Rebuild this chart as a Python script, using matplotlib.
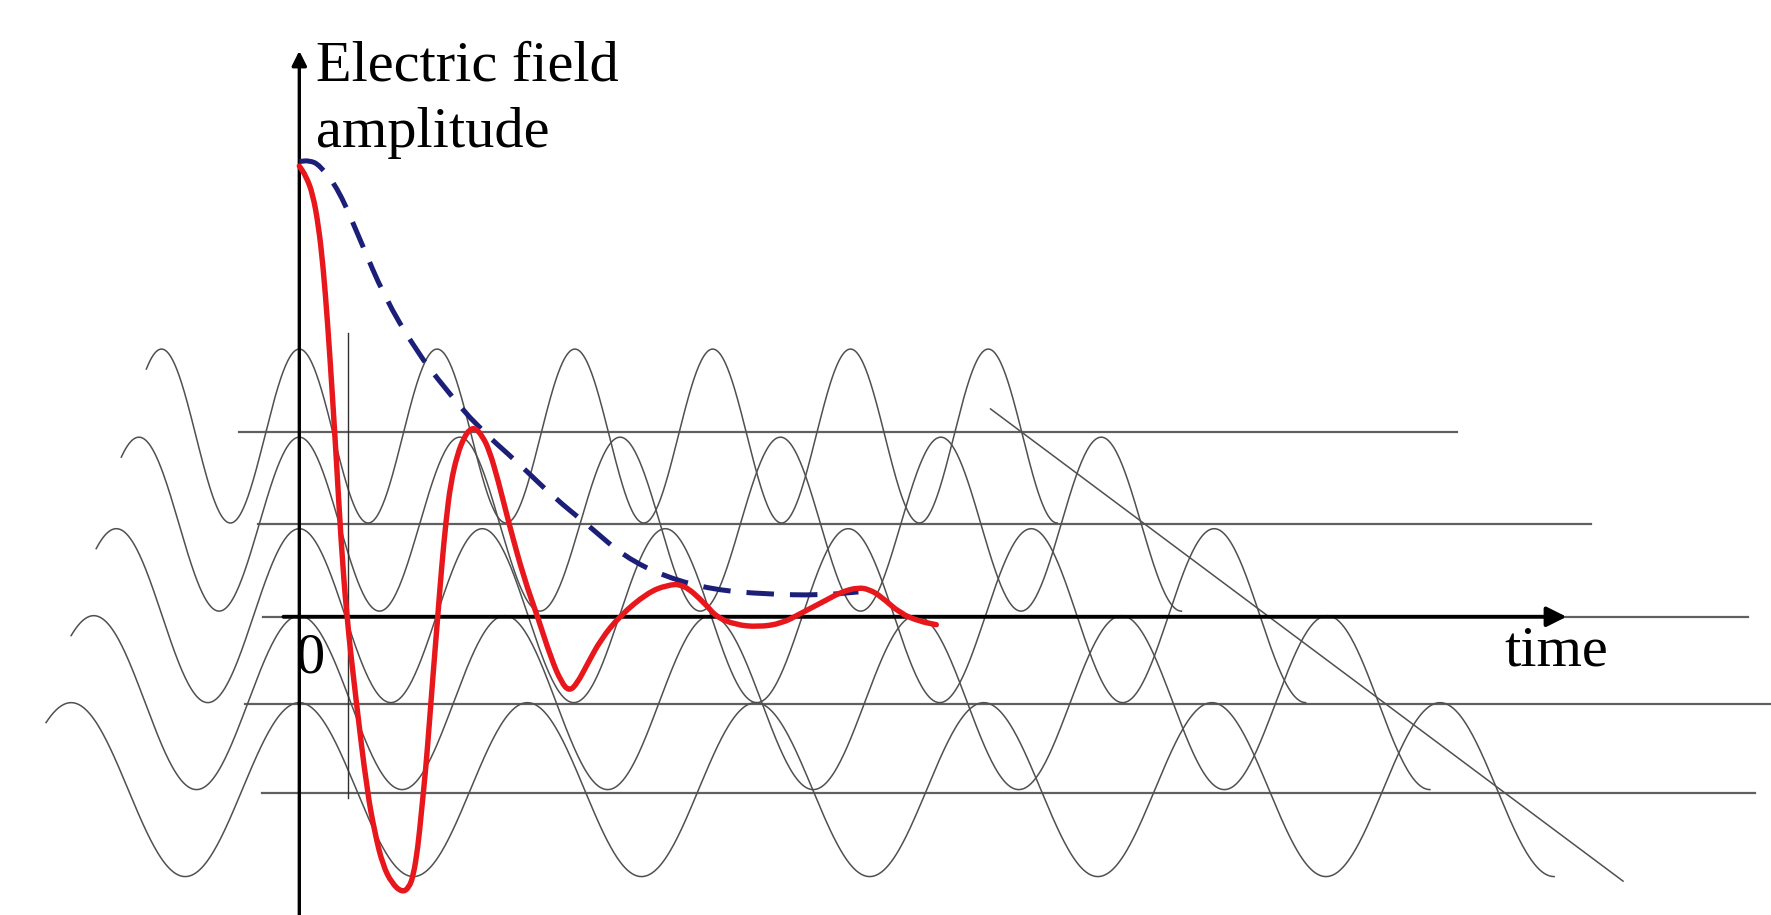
import matplotlib
matplotlib.use("Agg")
import matplotlib.pyplot as plt
from matplotlib.path import Path
from matplotlib.patches import PathPatch
import numpy as np

# individual precessing components (period, centre line, amplitude)
periods = [1.22, 1.42, 1.62, 1.82, 2.02]
wave_centres = [1.60, 0.82, 0.01, -0.76, -1.53]
amplitude = 0.77
first_cycle = -1.11   # each wave starts 1.11 periods before t=0
last_cycle = 5.5      # and stops at its trough after 5.5 periods

# horizontal reference lines behind the waves
line_levels = [1.64, 0.82, 0.0, -0.77, -1.56]
line_starts = [-0.53, -0.37, -0.32, -0.48, -0.33]
line_ends = [10.25, 11.44, 12.83, 13.03, 12.89]

# diagonal that cuts off the waves
diag_t = [6.12, 11.72]
diag_y = [1.84, -2.34]

# thin marker line just after t=0
marker_t = 0.43
marker_y = [-1.60, 2.51]

# total signal (free induction decay)
fid_t = [0.00, 0.06, 0.12, 0.17, 0.21, 0.25, 0.29, 0.33, 0.37, 0.42, 0.50, 0.60,
         0.67, 0.74, 0.82, 0.91, 0.97, 1.01, 1.05, 1.08, 1.12, 1.15, 1.19, 1.22,
         1.26, 1.30, 1.34, 1.40, 1.46, 1.51, 1.56, 1.62, 1.68, 1.76, 1.86, 1.99,
         2.11, 2.23, 2.32, 2.39, 2.46, 2.55, 2.67, 2.84, 3.08, 3.25, 3.40, 3.59,
         3.69, 3.86, 4.06, 4.27, 4.44, 4.67, 4.80, 4.95, 5.05, 5.15, 5.32, 5.49, 5.64]
fid_y = [3.99, 3.90, 3.74, 3.46, 3.11, 2.61, 2.01, 1.36, 0.66, 0.00, -0.72, -1.54,
         -1.92, -2.20, -2.36, -2.44, -2.40, -2.29, -2.04, -1.74, -1.34, -0.96, -0.44, -0.07,
         0.44, 0.86, 1.18, 1.44, 1.59, 1.66, 1.67, 1.60, 1.48, 1.21, 0.81, 0.34,
         0.00, -0.37, -0.58, -0.66, -0.59, -0.42, -0.20, 0.01, 0.21, 0.28, 0.29, 0.12,
         0.00, -0.07, -0.09, -0.06, 0.03, 0.15, 0.22, 0.26, 0.24, 0.18, 0.03, -0.04, -0.07]

# decay envelope (dashed)
env_t = [0.00, 0.09, 0.18, 0.35, 0.55, 0.75, 1.03, 1.30, 1.58, 1.94, 2.25, 2.57,
         2.88, 3.25, 3.66, 4.13, 4.61, 4.95]
env_y = [4.03, 4.04, 4.00, 3.78, 3.31, 2.84, 2.36, 2.01, 1.68, 1.36, 1.06, 0.80,
         0.53, 0.35, 0.24, 0.20, 0.19, 0.22]


def smooth_path(xs, ys):
    # quadratic bezier through the midpoints, read points act as control points
    pts = np.column_stack([xs, ys])
    verts = [pts[0]]
    codes = [Path.MOVETO]
    verts.append((pts[0] + pts[1]) / 2)
    codes.append(Path.LINETO)
    for i in range(1, len(pts) - 1):
        verts += [pts[i], (pts[i] + pts[i + 1]) / 2]
        codes += [Path.CURVE3, Path.CURVE3]
    verts.append(pts[-1])
    codes.append(Path.LINETO)
    return Path(verts, codes)


fig = plt.figure(figsize=(17.71, 9.15), dpi=100)
ax = fig.add_axes([0, 0, 1, 1])
ax.set_xlim(-2.65, 13.03)
ax.set_ylim(-2.64, 5.46)
ax.axis("off")

grey = "#505050"
for lev, x0, x1 in zip(line_levels, line_starts, line_ends):
    ax.plot([x0, x1], [lev, lev], color="#606060", lw=1.6, zorder=1)

for P, c in zip(periods, wave_centres):
    t = np.linspace(first_cycle * P, last_cycle * P, 1200)
    ax.plot(t, c + amplitude * np.cos(2 * np.pi * t / P), color=grey, lw=1.1, zorder=2)

ax.plot(diag_t, diag_y, color=grey, lw=1.1, zorder=2)
ax.plot([marker_t, marker_t], marker_y, color="#303030", lw=1.0, zorder=2)

# axes with arrows
ax.annotate("", xy=(0, 5.01), xytext=(0, -2.64),
            arrowprops=dict(arrowstyle="-|>", lw=2.4, color="black",
                            mutation_scale=22, shrinkA=0, shrinkB=0), zorder=3)
ax.annotate("", xy=(11.22, 0), xytext=(-0.14, 0),
            arrowprops=dict(arrowstyle="-|>", lw=2.8, color="black",
                            mutation_scale=30, shrinkA=0, shrinkB=0), zorder=3)

ax.add_patch(PathPatch(smooth_path(env_t, env_y), fill=False, edgecolor="#1b1f78",
                       lw=3.6, linestyle=(0, (5.5, 3.2)), capstyle="butt", zorder=4))
ax.add_patch(PathPatch(smooth_path(fid_t, fid_y), fill=False, edgecolor="#e8171c",
                       lw=3.9, joinstyle="round", capstyle="round", zorder=5))

font = dict(family="Liberation Serif", fontsize=42, color="black", zorder=6)
ax.text(0.15, 4.75, "Electric field", ha="left", va="baseline", **font)
ax.text(0.15, 4.16, "amplitude", ha="left", va="baseline", **font)
ax.text(-0.03, -0.49, "0", ha="left", va="baseline", **font)
ax.text(10.67, -0.43, "time", ha="left", va="baseline", **font)

fig.savefig("out.png", dpi=100)
